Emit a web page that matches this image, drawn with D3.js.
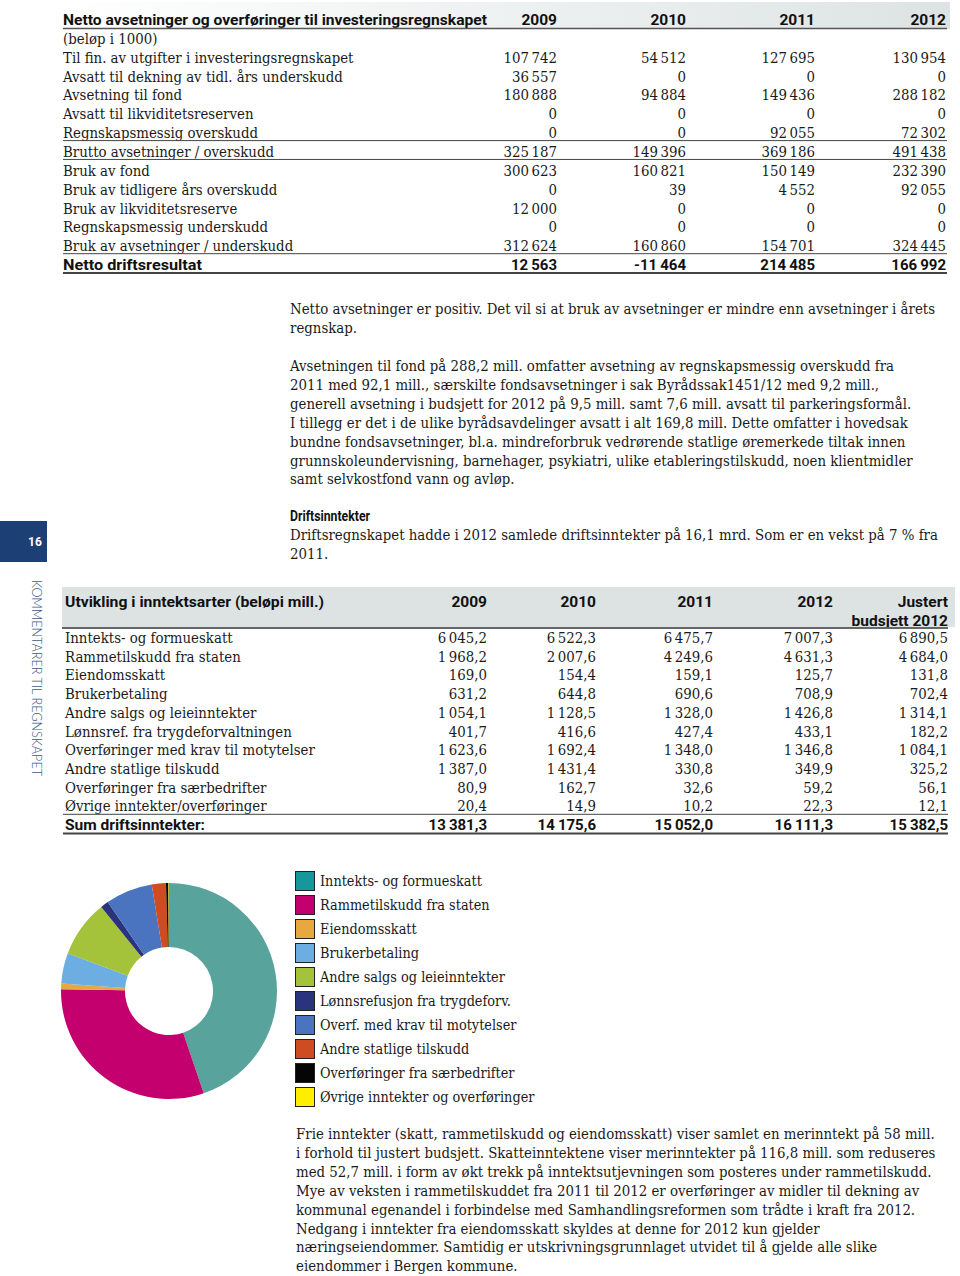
<!DOCTYPE html>
<html>
<head>
<meta charset="utf-8">
<script src="https://cdn.jsdelivr.net/npm/d3@7"></script>
<style>
  html, body { margin: 0; padding: 0; background: #fff; }
  svg { display: block; }
  .serif { font-family: "DejaVu Serif Condensed", "DejaVu Serif", serif; font-stretch: condensed; fill: #1a1a1a; }
  .sansb { font-family: Roboto, "DejaVu Sans", sans-serif; font-weight: 700; fill: #111; }
</style>
</head>
<body>
<div id="chart"></div>
<script>
// ---------------- DATA ----------------
const topYears = ["2009", "2010", "2011", "2012"];
const topTitle = "Netto avsetninger og overføringer til investeringsregnskapet";
const topUnit = "(beløp i 1000)";
const topLabels = [
  "Til fin. av utgifter i investeringsregnskapet",
  "Avsatt til dekning av tidl. års underskudd",
  "Avsetning til fond",
  "Avsatt til likviditetsreserven",
  "Regnskapsmessig overskudd",
  "Brutto avsetninger / overskudd",
  "Bruk av fond",
  "Bruk av tidligere års overskudd",
  "Bruk av likviditetsreserve",
  "Regnskapsmessig underskudd",
  "Bruk av avsetninger / underskudd",
  "Netto driftsresultat"
];
const top2009 = [107742, 36557, 180888, 0, 0, 325187, 300623, 0, 12000, 0, 312624, 12563];
const top2010 = [54512, 0, 94884, 0, 0, 149396, 160821, 39, 0, 0, 160860, -11464];
const top2011 = [127695, 0, 149436, 0, 92055, 369186, 150149, 4552, 0, 0, 154701, 214485];
const top2012 = [130954, 0, 288182, 0, 72302, 491438, 232390, 92055, 0, 0, 324445, 166992];

const para1 = [
  "Netto avsetninger er positiv. Det vil si at bruk av avsetninger er mindre enn avsetninger i årets",
  "regnskap."
];
const para2 = [
  "Avsetningen til fond på 288,2 mill. omfatter avsetning av regnskapsmessig overskudd fra",
  "2011 med 92,1 mill., særskilte fondsavsetninger i sak Byrådssak1451/12 med 9,2 mill.,",
  "generell avsetning i budsjett for 2012 på 9,5 mill. samt 7,6 mill. avsatt til parkeringsformål.",
  "I tillegg er det i de ulike byrådsavdelinger avsatt i alt 169,8 mill. Dette omfatter i hovedsak",
  "bundne fondsavsetninger, bl.a. mindreforbruk vedrørende statlige øremerkede tiltak innen",
  "grunnskoleundervisning, barnehager, psykiatri, ulike etableringstilskudd, noen klientmidler",
  "samt selvkostfond vann og avløp."
];
const para3Title = "Driftsinntekter";
const para3 = [
  "Driftsregnskapet hadde i 2012 samlede driftsinntekter på 16,1 mrd. Som er en vekst på 7 % fra",
  "2011."
];
const para4 = [
  "Frie inntekter (skatt, rammetilskudd og eiendomsskatt) viser samlet en merinntekt på 58 mill.",
  "i forhold til justert budsjett. Skatteinntektene viser merinntekter på 116,8 mill. som reduseres",
  "med 52,7 mill. i form av økt trekk på inntektsutjevningen som posteres under rammetilskudd.",
  "Mye av veksten i rammetilskuddet fra 2011 til 2012 er overføringer av midler til dekning av",
  "kommunal egenandel i forbindelse med Samhandlingsreformen som trådte i kraft fra 2012.",
  "Nedgang i inntekter fra eiendomsskatt skyldes at denne for 2012 kun gjelder",
  "næringseiendommer. Samtidig er utskrivningsgrunnlaget utvidet til å gjelde alle slike",
  "eiendommer i Bergen kommune."
];

const pageNumber = "16";
const sideLabel = "KOMMENTARER TIL REGNSKAPET";

const incTitle = "Utvikling i inntektsarter (beløpi mill.)";
const incYears = ["2009", "2010", "2011", "2012", "Justert"];
const incYearsLine2 = ["", "", "", "", "budsjett 2012"];
const incLabels = [
  "Inntekts- og formueskatt",
  "Rammetilskudd fra staten",
  "Eiendomsskatt",
  "Brukerbetaling",
  "Andre salgs og leieinntekter",
  "Lønnsref. fra trygdeforvaltningen",
  "Overføringer med krav til motytelser",
  "Andre statlige tilskudd",
  "Overføringer fra særbedrifter",
  "Øvrige inntekter/overføringer"
];
const inc2009 = [6045.2, 1968.2, 169.0, 631.2, 1054.1, 401.7, 1623.6, 1387.0, 80.9, 20.4];
const inc2010 = [6522.3, 2007.6, 154.4, 644.8, 1128.5, 416.6, 1692.4, 1431.4, 162.7, 14.9];
const inc2011 = [6475.7, 4249.6, 159.1, 690.6, 1328.0, 427.4, 1348.0, 330.8, 32.6, 10.2];
const inc2012 = [7007.3, 4631.3, 125.7, 708.9, 1426.8, 433.1, 1346.8, 349.9, 59.2, 22.3];
const incJust = [6890.5, 4684.0, 131.8, 702.4, 1314.1, 182.2, 1084.1, 325.2, 56.1, 12.1];
const incSumLabel = "Sum driftsinntekter:";
const incSums = [13381.3, 14175.6, 15052.0, 16111.3, 15382.5];

const legendLabels = [
  "Inntekts- og formueskatt",
  "Rammetilskudd fra staten",
  "Eiendomsskatt",
  "Brukerbetaling",
  "Andre salgs og leieinntekter",
  "Lønnsrefusjon fra trygdeforv.",
  "Overf. med krav til motytelser",
  "Andre statlige tilskudd",
  "Overføringer fra særbedrifter",
  "Øvrige inntekter og overføringer"
];
const sliceColors = ["#58a39b", "#c4006e", "#e9a83f", "#6daee2", "#a5c23b", "#2b327e", "#4a74bf", "#cf4b22", "#050505", "#ffee00"];
const swatchColors = ["#16989a", "#c4006e", "#e9a83f", "#6daee2", "#a5c23b", "#2b327e", "#4a74bf", "#cf4b22", "#050505", "#ffee00"];

// ---------------- DRAW ----------------
const W = 960, H = 1276;
const svg = d3.select("#chart").append("svg").attr("width", W).attr("height", H);
const defs = svg.append("defs");

const loc = d3.formatLocale({ thousands: "\u2009", grouping: [3], decimal: ",", currency: ["", ""], minus: "-" });
const fInt = loc.format(",d");
const fDec = loc.format(",.1f");
const SERIF = 14.5;

function fitWidth(sel, w) {
  sel.each(function () {
    const len = this.getComputedTextLength();
    if (Math.abs(len - w) > 1) d3.select(this).attr("textLength", w).attr("lengthAdjust", "spacingAndGlyphs");
  });
}

// ===== Top table =====
const grad = defs.append("linearGradient").attr("id", "hdrGrad").attr("x1", "0").attr("x2", "1");
grad.append("stop").attr("offset", "0").attr("stop-color", "#ffffff");
grad.append("stop").attr("offset", "1").attr("stop-color", "#dde3e3");
svg.append("rect").attr("x", 60).attr("y", 2).attr("width", 890).attr("height", 27).attr("fill", "url(#hdrGrad)");

const t1Left = 63, t1Right = 947;
const topCols = [557, 686, 815, 946];
const topCol = d3.scaleOrdinal().domain(topYears).range(topCols);
const topRowY = d3.scaleLinear().domain([0, 1]).range([62.7, 81.55]);
const topCols_data = [top2009, top2010, top2011, top2012];

svg.append("text").attr("class", "sansb").attr("x", t1Left).attr("y", 25).attr("font-size", 15.5)
  .text(topTitle).call(fitWidth, 424);
svg.selectAll(".tyear").data(topYears).enter().append("text").attr("class", "sansb")
  .attr("x", d => topCol(d)).attr("y", 25).attr("font-size", 15.5).attr("text-anchor", "end").text(d => d);
svg.append("line").attr("x1", t1Left).attr("x2", t1Right).attr("y1", 28.5).attr("y2", 28.5).attr("stroke", "#555").attr("stroke-width", 1.5);

svg.append("text").attr("class", "serif leaf").attr("x", t1Left).attr("y", topRowY(-1)).attr("font-size", SERIF).text(topUnit);

const lastTop = topLabels.length - 1;
topLabels.forEach((lab, i) => {
  const y = topRowY(i);
  const bold = i === lastTop;
  const t = svg.append("text").attr("class", bold ? "sansb" : "serif leaf").attr("x", t1Left).attr("y", y)
    .attr("font-size", bold ? 15 : SERIF).text(lab);
  if (bold) t.call(fitWidth, 139);
  topYears.forEach((yr, j) => {
    svg.append("text").attr("class", bold ? "sansb" : "serif leaf").attr("x", topCol(yr)).attr("y", y)
      .attr("font-size", bold ? 15 : SERIF).attr("text-anchor", "end").text(fInt(topCols_data[j][i]));
  });
});
[4, 5, 10].forEach(i => {
  svg.append("line").attr("x1", t1Left).attr("x2", t1Right).attr("y1", topRowY(i) + 2.5).attr("y2", topRowY(i) + 2.5)
    .attr("stroke", "#444").attr("stroke-width", 1);
});
svg.append("line").attr("x1", t1Left).attr("x2", t1Right).attr("y1", topRowY(lastTop) + 3).attr("y2", topRowY(lastTop) + 3)
  .attr("stroke", "#444").attr("stroke-width", 2);

// ===== Paragraphs =====
let calib = null;
function para(lines, x, y0, lh) {
  const t = svg.append("text").attr("class", "serif").attr("font-size", SERIF);
  const spans = [];
  lines.forEach((l, i) => spans.push(t.append("tspan").attr("class", "leaf").attr("x", x).attr("y", y0 + i * lh).text(l)));
  return spans;
}
const p1 = para(para1, 290, 314, 19);
calib = p1[0];
para(para2, 290, 371, 18.9);
svg.append("text").attr("class", "sansb").attr("x", 290).attr("y", 521).attr("font-size", 15).text(para3Title).call(fitWidth, 80);
para(para3, 290, 540, 19);
para(para4, 296, 1139, 18.9);

// ===== Page number & side label =====
svg.append("rect").attr("x", 0).attr("y", 521).attr("width", 47).attr("height", 41).attr("fill", "#1c3f76");
svg.append("text").attr("x", 35).attr("y", 546).attr("text-anchor", "middle").attr("fill", "#fff")
  .attr("font-family", "Roboto, sans-serif").attr("font-weight", 700).attr("font-size", 12).text(pageNumber);
svg.append("text").attr("transform", "translate(32,580) rotate(90)").attr("fill", "#3d5a88")
  .attr("font-family", "Lato, 'Open Sans', sans-serif").attr("font-weight", 300).attr("font-size", 13)
  .text(sideLabel).call(fitWidth, 196);

// ===== Income table =====
const t2Left = 65, t2Right = 948;
svg.append("rect").attr("x", 62).attr("y", 587).attr("width", 893).attr("height", 40).attr("fill", "#dde3e3");
const incCol = d3.scaleOrdinal().domain(incYears).range([487, 596, 713, 833, 948]);
svg.append("text").attr("class", "sansb").attr("x", t2Left).attr("y", 607).attr("font-size", 15.5).text(incTitle).call(fitWidth, 259);
svg.selectAll(".iyear").data(incYears).enter().append("text").attr("class", "sansb")
  .attr("x", d => incCol(d)).attr("y", 607).attr("font-size", 15.5).attr("text-anchor", "end").text(d => d);
incYears.forEach((d, j) => {
  if (incYearsLine2[j]) svg.append("text").attr("class", "sansb").attr("x", incCol(d)).attr("y", 626)
    .attr("font-size", 15.5).attr("text-anchor", "end").text(incYearsLine2[j]);
});
svg.append("line").attr("x1", 62).attr("x2", t2Right).attr("y1", 628).attr("y2", 628).attr("stroke", "#666").attr("stroke-width", 2);

const incRowY = d3.scaleLinear().domain([0, 1]).range([643, 661.7]);
const incData = [inc2009, inc2010, inc2011, inc2012, incJust];
incLabels.forEach((lab, i) => {
  const y = incRowY(i);
  svg.append("text").attr("class", "serif leaf").attr("x", t2Left).attr("y", y).attr("font-size", SERIF).text(lab);
  incYears.forEach((yr, j) => {
    svg.append("text").attr("class", "serif leaf").attr("x", incCol(yr)).attr("y", y).attr("font-size", SERIF)
      .attr("text-anchor", "end").text(fDec(incData[j][i]));
  });
});
const sumY = incRowY(incLabels.length);
svg.append("text").attr("class", "sansb").attr("x", t2Left).attr("y", sumY).attr("font-size", 15).text(incSumLabel).call(fitWidth, 140);
incYears.forEach((yr, j) => {
  svg.append("text").attr("class", "sansb").attr("x", incCol(yr)).attr("y", sumY).attr("font-size", 15)
    .attr("text-anchor", "end").text(fDec(incSums[j]));
});
svg.append("line").attr("x1", 63).attr("x2", t2Right).attr("y1", incRowY(9) + 3).attr("y2", incRowY(9) + 3).attr("stroke", "#444").attr("stroke-width", 1);
svg.append("line").attr("x1", 63).attr("x2", t2Right).attr("y1", sumY + 3.5).attr("y2", sumY + 3.5).attr("stroke", "#444").attr("stroke-width", 2);

// ===== Donut =====
const pie = d3.pie().sort(null).value(d => d)(incJust);
const arc = d3.arc().innerRadius(44).outerRadius(108);
const g = svg.append("g").attr("transform", "translate(169,991)");
g.selectAll("path").data(pie).enter().append("path").attr("d", arc).attr("fill", (d, i) => sliceColors[i]);

// ===== Legend =====
const legY = d3.scaleBand().domain(d3.range(legendLabels.length)).range([871, 1111]);
const lg = svg.append("g");
legendLabels.forEach((lab, i) => {
  const y = legY(i);
  lg.append("rect").attr("x", 295.5).attr("y", y + 0.5).attr("width", 19).attr("height", 19)
    .attr("fill", swatchColors[i]).attr("stroke", "#222").attr("stroke-width", 1);
  lg.append("text").attr("class", "serif leaf").attr("x", 320).attr("y", y + 15).attr("font-size", 14).text(lab);
});

// ===== Calibrate serif width (reference face is a narrow slab serif) =====
const k = 645 / calib.node().getComputedTextLength();
svg.selectAll(".leaf").each(function () {
  const len = this.getComputedTextLength();
  d3.select(this).attr("textLength", len * k).attr("lengthAdjust", "spacingAndGlyphs");
});
</script>
</body>
</html>
